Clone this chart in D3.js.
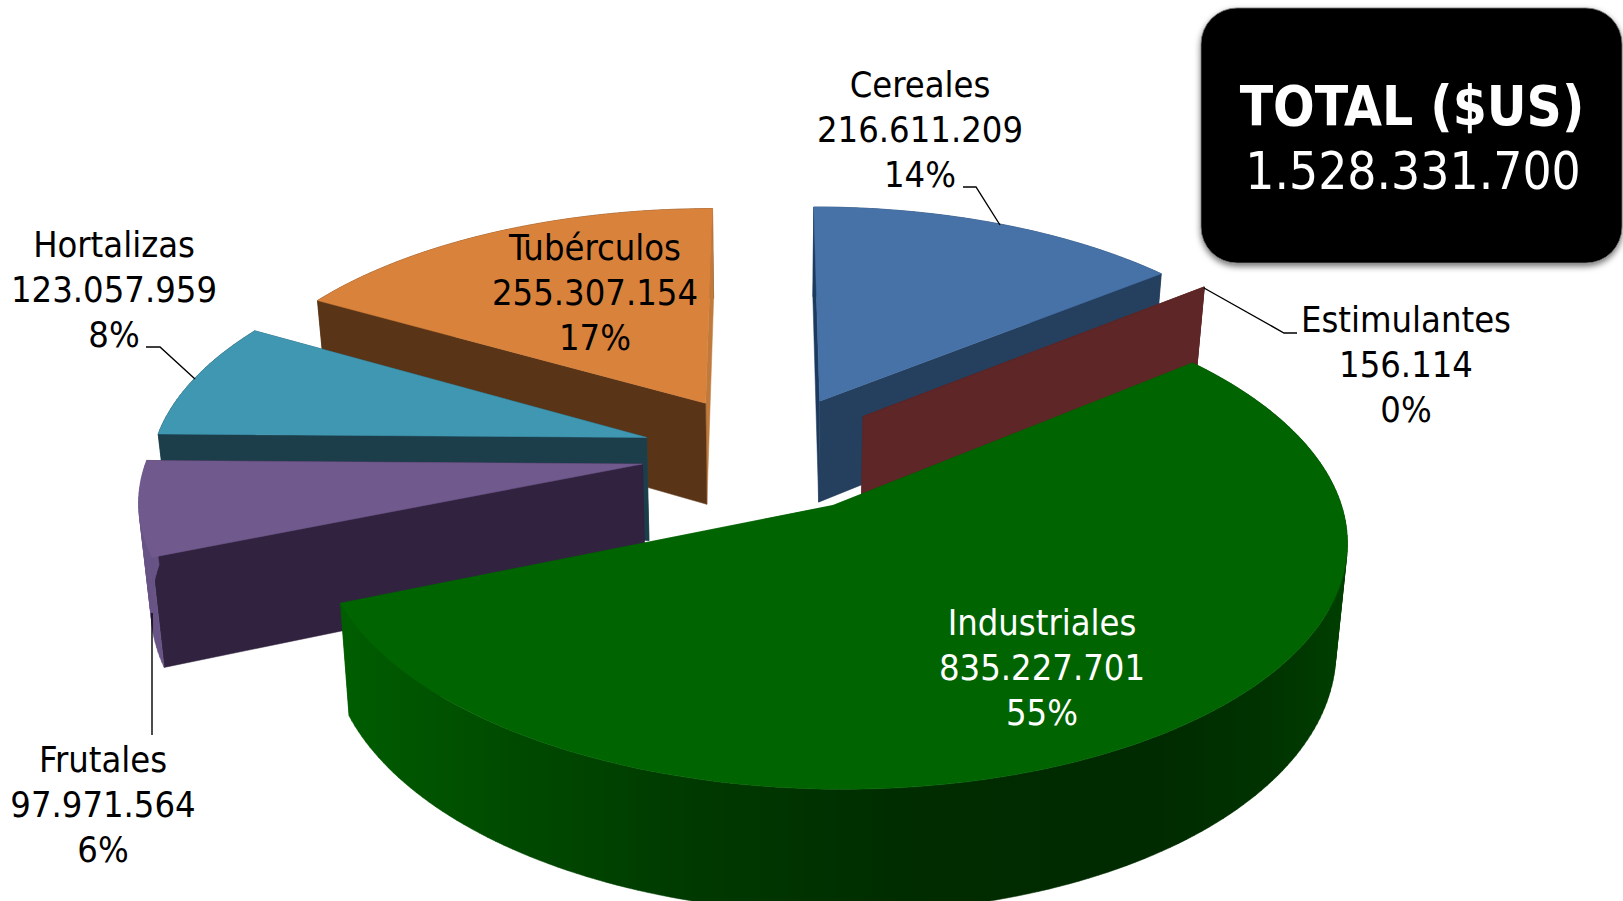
<!DOCTYPE html>
<html><head><meta charset="utf-8">
<script src="https://cdnjs.cloudflare.com/ajax/libs/d3/7.8.5/d3.min.js"></script>
<style>html,body{margin:0;background:#fff;overflow:hidden}svg{display:block}
text{font-family:"DejaVu Sans Condensed","DejaVu Sans",sans-serif;font-stretch:condensed}</style>
</head><body><svg id="c" width="1623" height="901"></svg>
<script>
const categories=["Cereales","Estimulantes","Industriales","Frutales","Hortalizas","Tubérculos"];
const valuesUS=[216611209,156114,835227701,97971564,123057959,255307154];
const percentLabels=["14%","0%","55%","6%","8%","17%"];
const valueLabels=["216.611.209","156.114","835.227.701","97.971.564","123.057.959","255.307.154"];
const topColors=["#4672a8","#5e2626","#006400","#70598d","#4097b2","#d9823b"];
const startWallColors=["#1c3a5e","#5e2626","#005a00","#31233f","#1c3e4a","#5a3416"];
const endWallColors=["#253f5e","#5e2626","#005a00","#31233f","#1c4d5c","#c07a3c"];
const outerWallColors=["#253f5e","#5e2626","url(#gw)","#695486","#1c3e4a","#5a3416"];
const greenShadeStops=[0,.08,.2,.35,.55,.8,.92,1];
const greenShades=["#005f00","#005500","#004800","#003a00","#002d00","#002a00","#003300","#004000"];
const paintOrder=[5,0,1,4,3,2];
const labelColors=["#000","#000","#fff","#000","#000","#000"];
const labelAnchors=[[920,97],[1406,332],[1042,635],[103,772],[114,257],[595,260]];
const leaders=[[[963,187],[976,187],[1000,225]],[[1204,288],[1284,333],[1297,333]],[[146,347],[160,347],[195,379]],[[152,613],[152,735]]];
const totalTitle="TOTAL ($US)",totalValue="1.528.331.700";

const CX=767,CY=453,RX=494,RY=232,K=0.13,EXPL=0.255,H=104,M=0.02;
const sx=d3.scaleLinear().domain([0,1]).range([0,RX]);
const sy=d3.scaleLinear().domain([0,1]).range([0,RY]);
function project(u,v,z){const s=1/(1-K*v);const sh=1-M*z;return [CX+sx(u)*s*sh,CY+sy(v)*s+z*H*s];}
const svg=d3.select("#c");
const defs=svg.append("defs");
const gw=defs.append("linearGradient").attr("id","gw").attr("gradientUnits","userSpaceOnUse").attr("x1",330).attr("x2",1350).attr("y1",0).attr("y2",0);
greenShadeStops.forEach((t,j)=>gw.append("stop").attr("offset",t).attr("stop-color",greenShades[j]));
const fs=defs.append("filter").attr("id","sh").attr("x","-5%").attr("y","-5%").attr("width","110%").attr("height","115%");
fs.append("feDropShadow").attr("dx",0).attr("dy",3).attr("stdDeviation",3).attr("flood-color","#000").attr("flood-opacity",.55);

const pie=d3.pie().sort(null).startAngle(0).endAngle(2*Math.PI)(valuesUS);
const line=d3.line();
const gp=svg.append("g");
paintOrder.forEach(i=>{
  const a=pie[i];const mid=(a.startAngle+a.endAngle)/2;
  const ou=EXPL*Math.sin(mid),ov=-EXPL*Math.cos(mid);
  const steps=Math.max(2,Math.ceil((a.endAngle-a.startAngle)/0.02));
  const angs=d3.range(steps+1).map(j=>a.startAngle+(a.endAngle-a.startAngle)*j/steps);
  const P=(ang,r,z)=>project(ou+r*Math.sin(ang),ov-r*Math.cos(ang),z);
  const apex0=P(0,0,0),apex1=P(0,0,1);
  const s0=P(a.startAngle,1,0),s1=P(a.startAngle,1,1),e0=P(a.endAngle,1,0),e1=P(a.endAngle,1,1);
  const draw=(pts,fill)=>gp.append("path").attr("d",line(pts)+"Z").attr("fill",fill).attr("stroke",fill).attr("stroke-width",.5);
  const outer=()=>{
    const d=d3.pairs(angs).map(([t0,t1])=>{
      const q=[P(t0,1,0),P(t1,1,0),P(t1,1,1),P(t0,1,1)];
      if(d3.polygonArea(q)<0) q.reverse();
      return line(q)+"Z";
    }).join("");
    gp.append("path").attr("d",d).attr("fill",outerWallColors[i]).attr("fill-rule","nonzero").attr("stroke",outerWallColors[i]).attr("stroke-width",.5);
  };
  const startWall=()=>draw([apex0,s0,s1,apex1],startWallColors[i]);
  const endWall=()=>draw([apex0,e0,e1,apex1],endWallColors[i]);
  const nearArc=-Math.cos(mid)>0;
  if(!nearArc) outer();
  if(s0[1]>e0[1]){endWall();startWall();}else{startWall();endWall();}
  if(nearArc) outer();
  draw([apex0].concat(angs.map(t=>P(t,1,0))),topColors[i]);
});
svg.append("g").selectAll("path").data(leaders).join("path").attr("d",d=>line(d)).attr("fill","none").attr("stroke","#000").attr("stroke-width",1.4);
const gl=svg.append("g").attr("font-size",36).attr("text-anchor","middle");
categories.forEach((c,i)=>{
  const [x,y]=labelAnchors[i];
  [c,valueLabels[i],percentLabels[i]].forEach((t,j)=>gl.append("text").attr("x",x).attr("y",y+j*44.8).attr("fill",labelColors[i]).text(t));
});
svg.append("rect").attr("x",1201).attr("y",8).attr("width",421).attr("height",255).attr("rx",36).attr("fill","#000").attr("stroke","#777").attr("stroke-width",.8).attr("filter","url(#sh)");
svg.append("text").attr("x",1412).attr("y",125).attr("text-anchor","middle").attr("font-size",54.5).attr("font-weight","bold").attr("fill","#fff").text(totalTitle);
svg.append("text").attr("x",1413).attr("y",189).attr("text-anchor","middle").attr("font-size",51).attr("fill","#fff").text(totalValue);
</script></body></html>
